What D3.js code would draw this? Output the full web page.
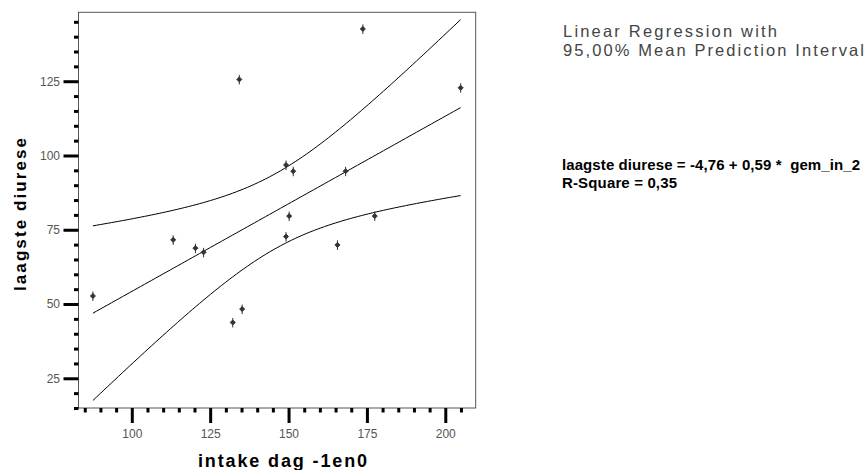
<!DOCTYPE html>
<html><head><meta charset="utf-8">
<script src="https://cdn.jsdelivr.net/npm/d3@7"></script>
<style>html,body{margin:0;padding:0;background:#fff;}svg{display:block;}</style>
</head><body>
<script>
// ---- data ----
const intake  = [87.6, 113.2, 120.3, 122.9, 132.2, 135.2, 134.3, 149.2, 151.5, 150.2, 149.2, 165.6, 168.2, 173.7, 177.5, 204.9];
const diurese = [52.7, 71.6, 68.8, 67.4, 43.8, 48.3, 125.6, 96.8, 94.7, 79.6, 72.7, 69.9, 94.7, 142.6, 79.6, 122.8];
const coef = [-4.76, 0.59];           // intercept, slope (from the chart text)
const rSquare = "0,35";
const xMajor = [100, 125, 150, 175, 200];
const yMajor = [25, 50, 75, 100, 125];
const legendLines = ["Linear Regression with", "95,00% Mean Prediction Interval"];
const eqLines = ["laagste diurese = -4,76 + 0,59 *  gem_in_2", "R-Square = " + rSquare];
const xTitle = "intake dag -1en0", yTitle = "laagste diurese";

const W = 865, H = 470;
const svg = d3.select("body").append("svg").attr("width", W).attr("height", H);
const x = d3.scaleLinear().domain([83.0, 209.7]).range([78.5, 475.7]);
const y = d3.scaleLinear().domain([15, 148.2]).range([408, 12.3]);

// frame
svg.append("rect").attr("x", x.range()[0]).attr("y", y.range()[1])
  .attr("width", x.range()[1]-x.range()[0]).attr("height", y.range()[0]-y.range()[1])
  .attr("fill", "none").attr("stroke", "#555").attr("stroke-width", 1);

// axes
const xMinor = d3.range(85, 210, 5).filter(v => !xMajor.includes(v));
const yMinor = d3.range(15, 148, 5).filter(v => !yMajor.includes(v));
function style(g){ g.select(".domain").remove(); g.selectAll(".tick line").attr("stroke","#000").attr("stroke-width",3);
  g.selectAll("text").attr("fill","#555").style("font-family","Arial, 'Liberation Sans', sans-serif").style("font-size","12px"); }
svg.append("g").attr("transform",`translate(0,${y.range()[0]})`)
  .call(d3.axisBottom(x).tickValues(xMinor).tickSize(4.5).tickFormat("")).call(style);
svg.append("g").attr("transform",`translate(0,${y.range()[0]})`)
  .call(d3.axisBottom(x).tickValues(xMajor).tickSize(15).tickPadding(6).tickFormat(d3.format("d"))).call(style);
svg.append("g").attr("transform",`translate(${x.range()[0]},0)`)
  .call(d3.axisLeft(y).tickValues(yMinor).tickSize(4.5).tickFormat("")).call(style);
svg.append("g").attr("transform",`translate(${x.range()[0]},0)`)
  .call(d3.axisLeft(y).tickValues(yMajor).tickSize(15).tickPadding(3.5).tickFormat(d3.format("d"))).call(style);

// regression + mean prediction interval
const n = intake.length;
const mx = d3.mean(intake);
const sxx = d3.sum(intake, v => (v-mx)*(v-mx));
const fit = v => coef[0] + coef[1]*v;
const sse = d3.sum(intake, (v,i) => (diurese[i]-fit(v))**2);
const s = Math.sqrt(sse/(n-2));
const t = 2.1448; // t(0.975, 14)
const hw = v => t*s*Math.sqrt(1/n + (v-mx)*(v-mx)/sxx);
const [x0, x1] = d3.extent(intake);
const xs = d3.range(0, 101).map(i => x0 + (x1-x0)*i/100);
const line = d3.line().x(d => x(d[0])).y(d => y(d[1]));
[v => fit(v), v => fit(v)+hw(v), v => fit(v)-hw(v)].forEach(f => {
  svg.append("path").attr("d", line(xs.map(v => [v, f(v)])))
    .attr("fill","none").attr("stroke","#000").attr("stroke-width",1);
});

// points
svg.append("g").selectAll("path").data(intake).join("path")
  .attr("transform", (d,i) => `translate(${x(d)},${y(diurese[i])})`)
  .attr("d", "M0,-2.5L2.5,0L0,2.5L-2.5,0Z M0,-4.5V5")
  .attr("fill", "#333").attr("stroke", "#333").attr("stroke-width", 1);

// titles
const ff = "Arial, 'Liberation Sans', sans-serif";
svg.append("text").attr("x", 198).attr("y", 466.5).text(xTitle)
  .attr("textLength", 169).attr("lengthAdjust","spacing")
  .style("font-family", ff).style("font-size","18px").style("font-weight","bold").attr("fill","#000");
svg.append("text").attr("transform","translate(25.5,291) rotate(-90)").text(yTitle)
  .attr("textLength", 153).attr("lengthAdjust","spacing")
  .style("font-family", ff).style("font-size","17px").style("font-weight","bold").attr("fill","#000");

// legend
const lw = [214, 301];
legendLines.forEach((l,i) => svg.append("text").attr("x",563).attr("y",37+i*18.8).text(l)
  .attr("textLength", lw[i]).attr("lengthAdjust","spacing")
  .style("font-family", ff).style("font-size","16.5px").attr("fill","#444"));
const ew = [298, 115];
eqLines.forEach((l,i) => svg.append("text").attr("x",562).attr("y",170+i*18.3).text(l)
  .attr("textLength", ew[i]).attr("lengthAdjust","spacing").attr("xml:space","preserve")
  .style("white-space","pre")
  .style("font-family", ff).style("font-size","15px").style("font-weight","bold").attr("fill","#000"));
</script>
</body></html>
